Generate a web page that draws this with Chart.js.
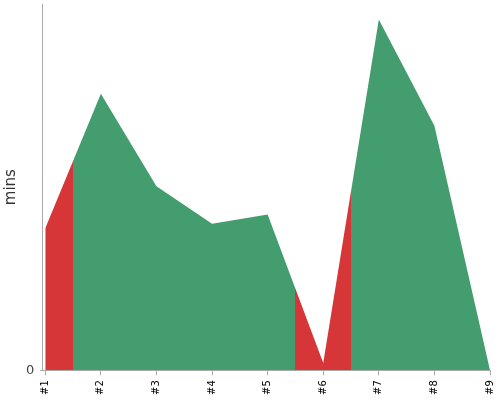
<!DOCTYPE html>
<html>
<head>
<meta charset="utf-8">
<script src="https://cdn.jsdelivr.net/npm/chart.js@4"></script>
<style>
html,body{margin:0;padding:0;background:#fff;}
#wrap{width:500px;height:400px;}
</style>
</head>
<body>
<div id="wrap"><canvas id="c" width="500" height="400"></canvas></div>
<script>
const categories = ['#1','#2','#3','#4','#5','#6','#7','#8','#9'];
const minutes = [15.5, 30.2, 20.1, 16.0, 17.0, 0.8, 38.3, 26.7, 0];
const status = ['bad','good','good','good','good','bad','good','good','good'];
const yTicks = [0];

const COLORS = {bad: 'rgb(214,54,56)', good: 'rgb(68,157,110)'};

function stepFill(ctx) {
  const chart = ctx.chart;
  const area = chart.chartArea;
  if (!area) return COLORS.good;
  const xs = chart.scales.x;
  const w = area.right - area.left;
  const g = chart.ctx.createLinearGradient(area.left, 0, area.right, 0);
  const n = minutes.length;
  for (let i = 0; i < n; i++) {
    const start = i === 0 ? area.left : (xs.getPixelForValue(i) + xs.getPixelForValue(i + 1)) / 2;
    const end = i === n - 1 ? area.right : (xs.getPixelForValue(i + 1) + xs.getPixelForValue(i + 2)) / 2;
    const c = COLORS[status[i]];
    g.addColorStop(Math.min(1, Math.max(0, (start - area.left) / w)), c);
    g.addColorStop(Math.min(1, Math.max(0, (end - area.left) / w)), c);
  }
  return g;
}

new Chart(document.getElementById('c'), {
  type: 'line',
  data: {
    datasets: [{
      data: minutes.map((v, i) => ({x: i + 1, y: v})),
      fill: 'origin',
      backgroundColor: stepFill,
      borderWidth: 0,
      borderColor: 'rgba(0,0,0,0)',
      pointRadius: 0,
      tension: 0
    }]
  },
  options: {
    responsive: false,
    animation: false,
    events: [],
    layout: {padding: {top: 4, right: 10, left: 0, bottom: 0}},
    plugins: {legend: {display: false}, tooltip: {enabled: false}},
    scales: {
      x: {
        type: 'linear',
        min: 0.946,
        max: 9,
        afterBuildTicks: s => { s.ticks = categories.map((c, i) => ({value: i + 1})); },
        afterFit: s => { s.paddingRight = 0; s.paddingLeft = 0; },
        ticks: {
          callback: v => categories[v - 1],
          minRotation: 90, maxRotation: 90,
          autoSkip: false,
          color: '#000',
          font: {family: 'DejaVu Sans', size: 10},
          padding: 5
        },
        grid: {display: true, drawOnChartArea: false, tickLength: 5, color: '#aaa'},
        border: {display: true, color: '#aaa'}
      },
      y: {
        min: 0,
        max: 40,
        afterBuildTicks: s => { s.ticks = yTicks.map(v => ({value: v})); },
        afterFit: s => { s.paddingTop = 0; },
        ticks: {
          color: '#444',
          font: {family: 'DejaVu Sans', size: 13},
          padding: 6
        },
        grid: {display: true, drawOnChartArea: false, tickLength: 2, color: '#aaa'},
        border: {display: true, color: '#aaa'},
        title: {
          display: true,
          text: 'mins',
          color: '#333',
          font: {family: 'DejaVu Sans', size: 15},
          padding: {top: 2, bottom: 0}
        }
      }
    }
  }
});
</script>
</body>
</html>
